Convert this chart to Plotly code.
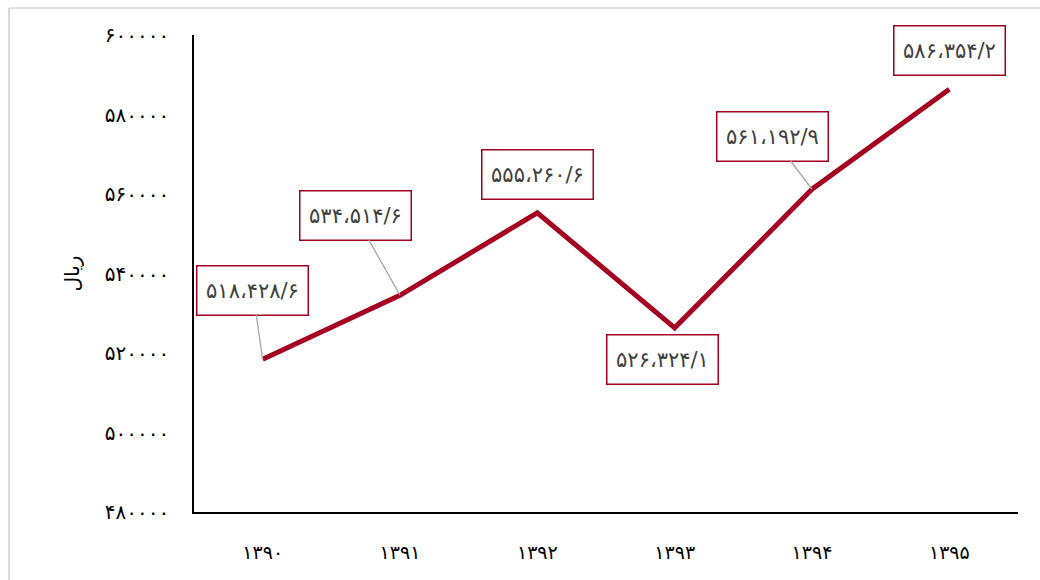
import plotly.graph_objects as go

years = ["۱۳۹۰", "۱۳۹۱", "۱۳۹۲", "۱۳۹۳", "۱۳۹۴", "۱۳۹۵"]
values = [518428.6, 534514.6, 555260.6, 526324.1, 561192.9, 586354.2]
value_labels = ["۵۱۸،۴۲۸/۶", "۵۳۴،۵۱۴/۶", "۵۵۵،۲۶۰/۶", "۵۲۶،۳۲۴/۱", "۵۶۱،۱۹۲/۹", "۵۸۶،۳۵۴/۲"]
y_tickvals = [480000, 500000, 520000, 540000, 560000, 580000, 600000]
y_ticktext = ["۴۸۰۰۰۰", "۵۰۰۰۰۰", "۵۲۰۰۰۰", "۵۴۰۰۰۰", "۵۶۰۰۰۰", "۵۸۰۰۰۰", "۶۰۰۰۰۰"]
y_title = "ریال"

# label offsets (pixels) and whether a leader line is drawn
offsets = [(-10, -69, True), (-45, -80, True), (0, -38, False),
           (-12, 32, False), (-40, -53, True), (0, -39, False)]

LINE = "#A50021"
FONT = "DejaVu Sans"

fig = go.Figure()
fig.add_trace(go.Scatter(x=years, y=values, mode="lines",
                         line=dict(color=LINE, width=5), hoverinfo="skip"))

for x, y, t, (ax, ay, arrow) in zip(years, values, value_labels, offsets):
    common = dict(x=x, y=y, text=t, font=dict(family=FONT, size=21, color="#404040"),
                  bgcolor="white", bordercolor=LINE, borderwidth=1.5, borderpad=1,
                  width=108, height=46, align="center", valign="middle")
    if arrow:
        fig.add_annotation(**common, showarrow=True, ax=ax, ay=ay, arrowhead=0,
                           arrowwidth=1.3, arrowcolor="#A6A6A6")
    else:
        fig.add_annotation(**common, showarrow=False, xshift=ax, yshift=-ay)

# outer frame (top and left edges)
fig.add_shape(type="line", xref="paper", yref="paper", x0=-0.2245, x1=-0.2245,
              y0=-0.2, y1=1.0566, line=dict(color="#D9D9D9", width=2))
fig.add_shape(type="line", xref="paper", yref="paper", x0=-0.2245, x1=1.03,
              y0=1.0566, y1=1.0566, line=dict(color="#D9D9D9", width=1.5))

fig.update_layout(
    width=1040, height=580,
    margin=dict(l=194, r=22, t=35, b=68),
    paper_bgcolor="white", plot_bgcolor="white",
    showlegend=False,
    font=dict(family=FONT, color="black"),
)
fig.update_xaxes(type="category", range=[-0.5, 5.5], showgrid=False,
                 showline=True, linecolor="black", linewidth=2,
                 ticks="outside", ticklen=0, ticklabelstandoff=22,
                 tickfont=dict(family=FONT, size=19, color="black"))
fig.update_yaxes(range=[480000, 600000], tickvals=y_tickvals, ticktext=y_ticktext,
                 showgrid=False, zeroline=False, showline=True, linecolor="black",
                 linewidth=1.5, ticks="outside", ticklen=0, ticklabelstandoff=19,
                 tickfont=dict(family=FONT, size=20, color="black"),
                 title=dict(text=y_title, font=dict(family=FONT, size=20, color="black"),
                            standoff=20))

fig.write_html("out.html")
